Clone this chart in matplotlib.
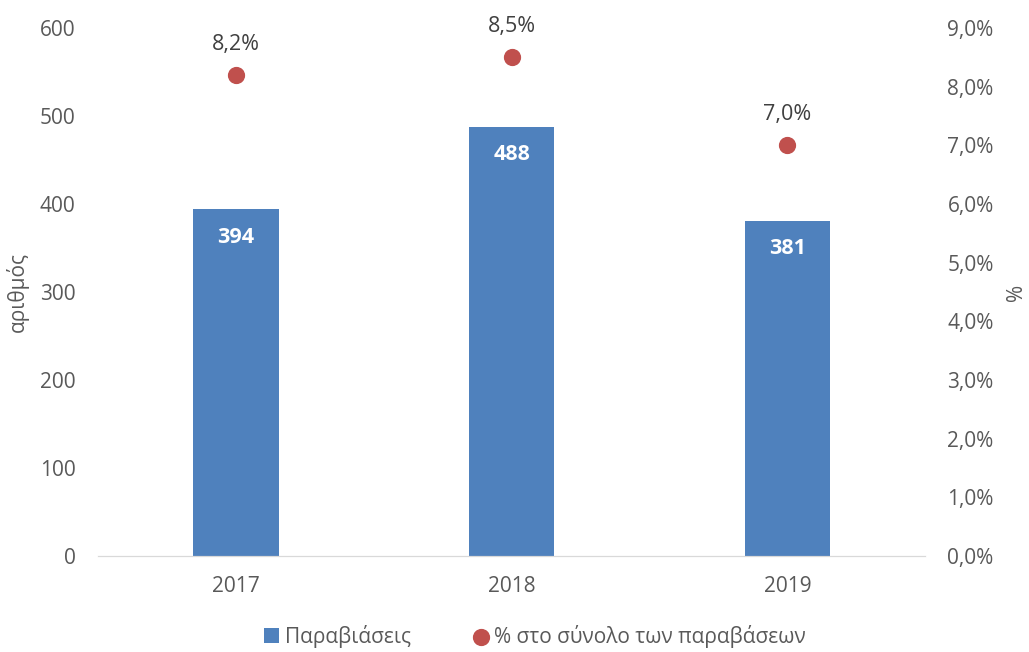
import numpy as np
import matplotlib.pyplot as plt
from matplotlib.ticker import FuncFormatter

years = ['2017', '2018', '2019']
violations = [394, 488, 381]
share_pct = [8.2, 8.5, 7.0]

bar_color = '#4f81bd'
dot_color = '#c0504d'
text_color = '#595959'

plt.rcParams['font.family'] = ['Open Sans', 'DejaVu Sans']
fs = 15

fig = plt.figure(figsize=(10.29, 6.52), dpi=100)
ax = fig.add_axes([0.0952, 0.147, 0.804, 0.81])
ax2 = ax.twinx()

x = np.arange(len(years))
bars = ax.bar(x, violations, width=0.31, color=bar_color, zorder=2,
              label='Παραβιάσεις')
dots = ax2.scatter(x, share_pct, s=130, color=dot_color, zorder=3,
                   label='% στο σύνολο των παραβάσεων')

ax.set_xlim(-0.5, len(years) - 0.5)
ax.set_ylim(0, 600)
ax.set_yticks(range(0, 601, 100))
ax2.set_ylim(0, 9)
ax2.set_yticks(np.arange(0, 9.01, 1))
ax2.yaxis.set_major_formatter(
    FuncFormatter(lambda v, p: '{:.1f}%'.format(v).replace('.', ',')))
ax.set_xticks(x)
ax.set_xticklabels(years)

for a in (ax, ax2):
    for side in ('top', 'left', 'right'):
        a.spines[side].set_visible(False)
    a.spines['bottom'].set_color('#d9d9d9')
    a.tick_params(length=0, colors=text_color, labelsize=fs)
ax.tick_params(axis='y', pad=16)
ax.tick_params(axis='x', pad=14)
ax2.tick_params(axis='y', pad=16)

ax.set_ylabel('αριθμός', color=text_color, fontsize=fs, labelpad=8)
ax2.set_ylabel('%', color=text_color, fontsize=fs, labelpad=9)

# data labels
for xi, v in zip(x, violations):
    ax.annotate(str(v), (xi, v), xytext=(0, -20), textcoords='offset points',
                ha='center', va='center', color='white', fontweight='bold',
                fontsize=15.5)
for xi, v in zip(x, share_pct):
    ax2.annotate('{:.1f}%'.format(v).replace('.', ','), (xi, v),
                 xytext=(0, 22), textcoords='offset points',
                 ha='center', va='center', color='#404040', fontsize=15.5)

handles = [bars, dots]
fig.legend(handles, [h.get_label() for h in handles], loc='lower center',
           bbox_to_anchor=(0.52, -0.022), ncol=2, frameon=False,
           handlelength=0.7, handletextpad=0.3, columnspacing=3.0,
           labelcolor=text_color, fontsize=fs)

fig.savefig('out.png', dpi=100)
